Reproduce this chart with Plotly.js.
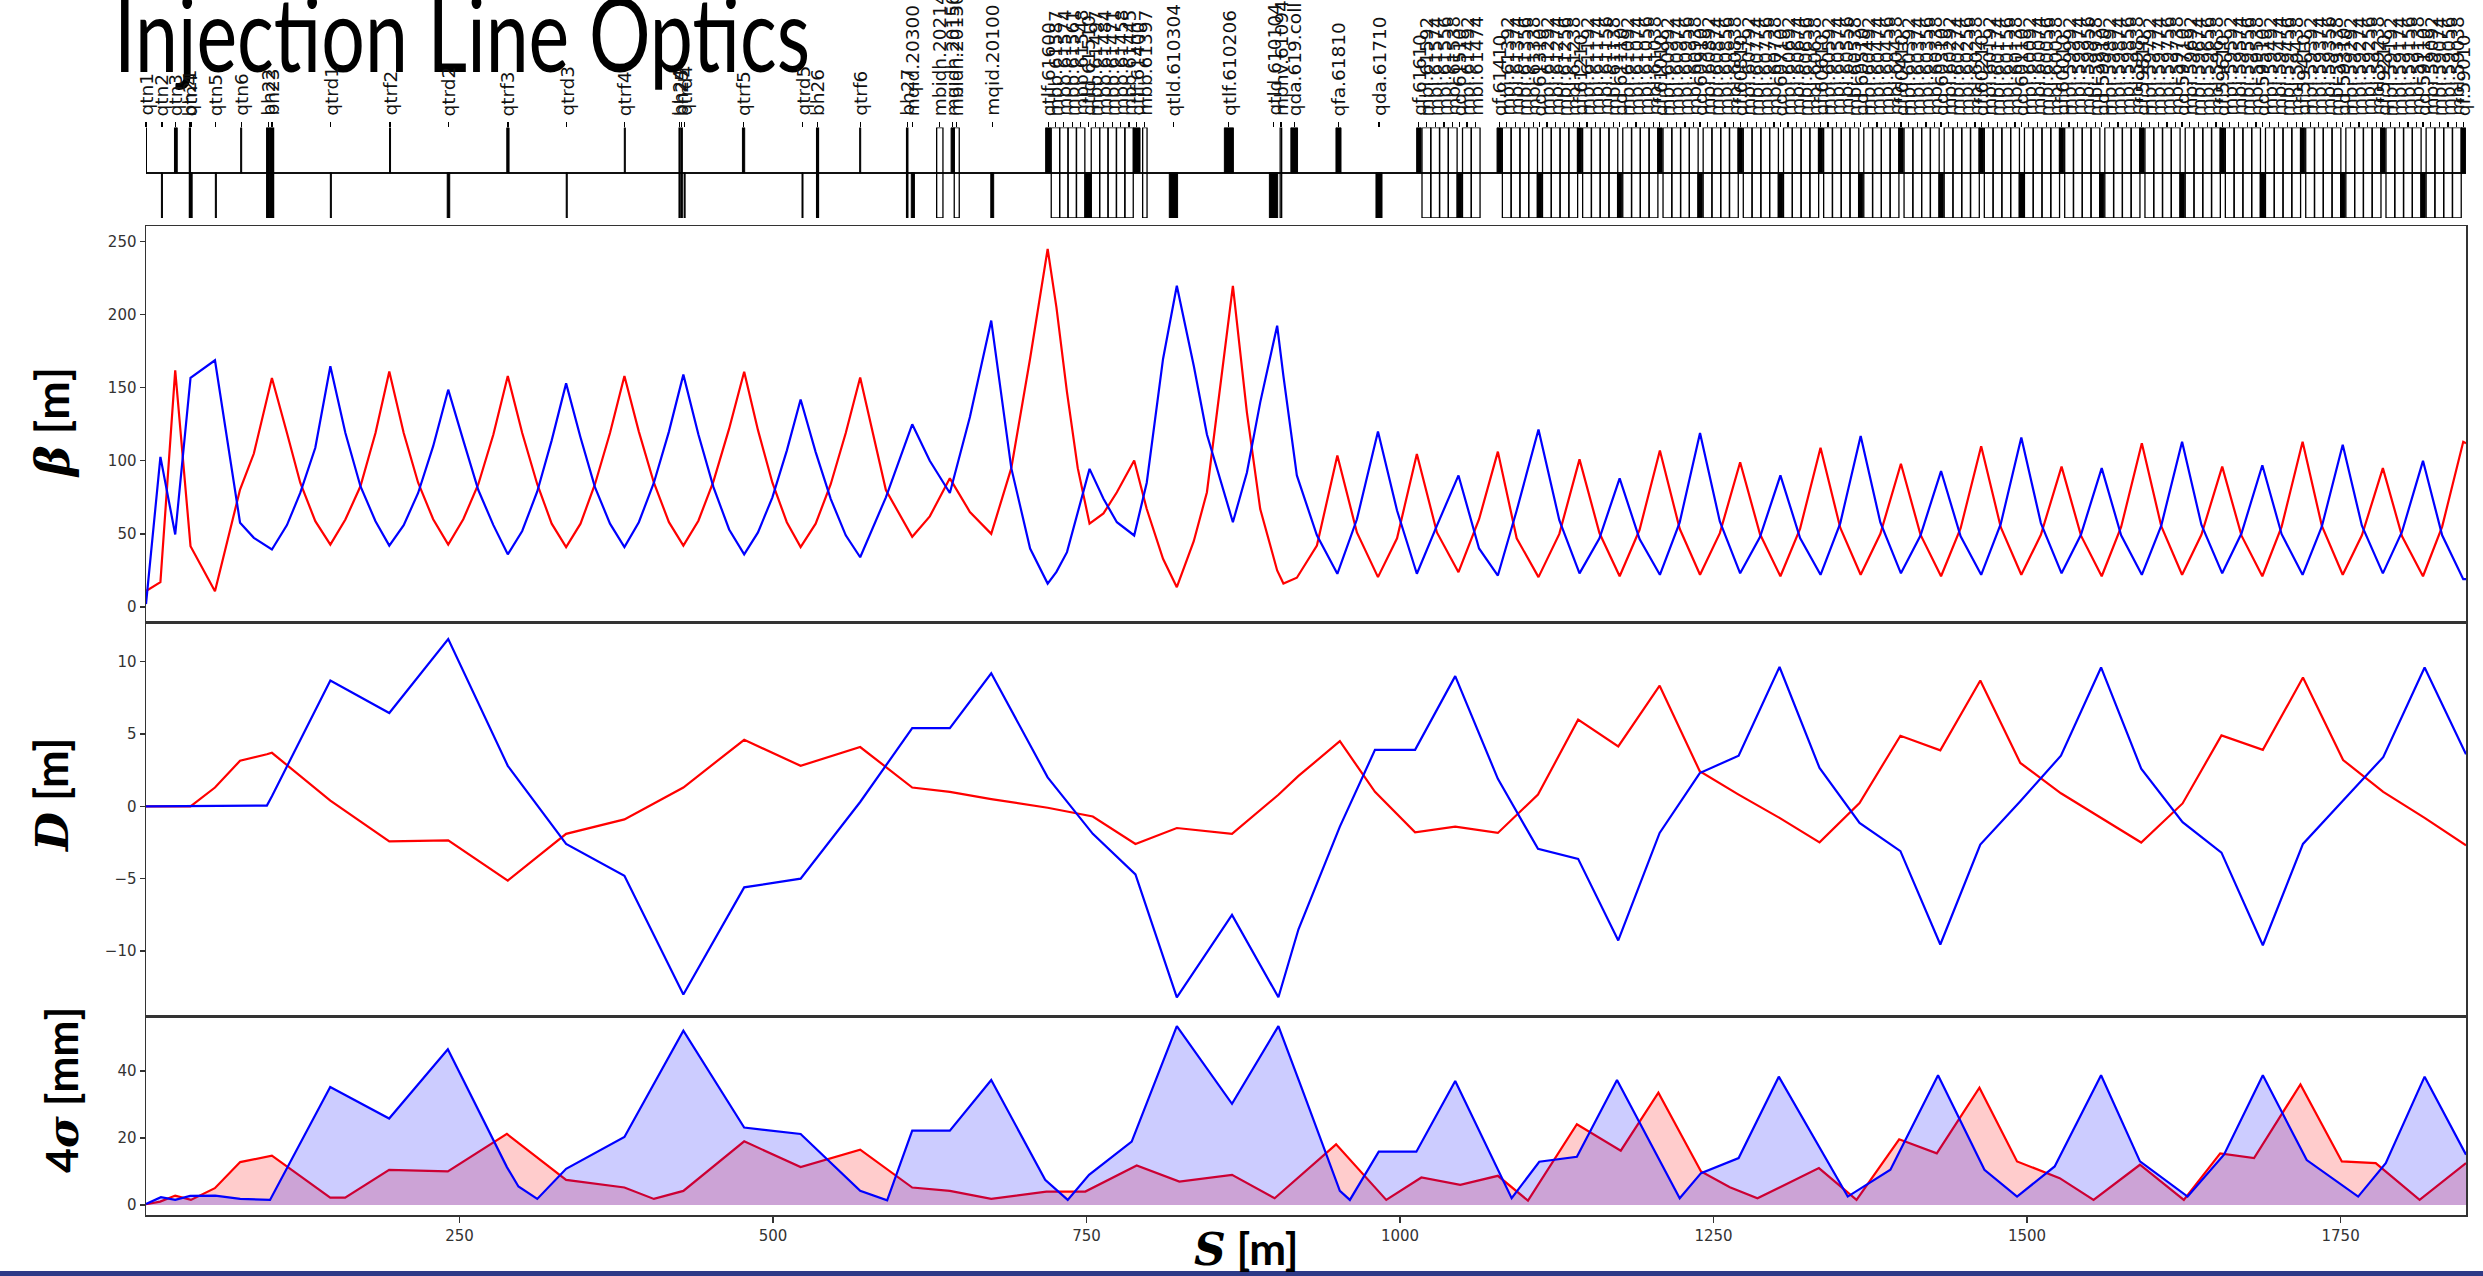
<!DOCTYPE html>
<html><head><meta charset="utf-8">
<script src="https://cdn.plot.ly/plotly-3.0.1.min.js"></script>
<style>html,body{margin:0;padding:0;background:#fff}#chart{width:2483px;height:1276px}</style>
</head><body><div id="chart"></div>
<script>
// ---------------- optics data (s in m) ----------------
const sB = [0, 11.5, 23.3, 35.5, 55, 75, 86, 100.4, 112.4, 123, 135, 147, 159, 171, 183, 194, 205.5, 217, 229, 241, 253, 265, 277, 288.5,
  300, 312, 323.5, 335, 346.5, 358, 370, 381.5, 393, 405, 417, 428.5, 440.5, 452.5, 465, 477, 488, 499.5, 511, 522, 534, 546, 558, 569.5,
  590, 611, 625, 641, 657, 674, 690, 705, 719, 726, 734.4, 743, 752.4, 763.5, 774.2, 788, 798, 811, 822, 835.5, 846, 866.7, 877.9, 888.5, 902, 907, 917.7, 933.7, 950, 965.6, 982.4, 997.6, 1013.4, 1029.4, 1046.6, 1063, 1078, 1093, 1110.4,
  1127, 1143.1, 1159, 1175.1, 1191, 1207.2, 1223, 1239.2, 1255, 1271.2, 1287, 1303.3, 1319, 1335.3, 1351, 1367.3, 1383, 1399.4, 1415, 1431.4,
  1447, 1463.4, 1479, 1495.4, 1511, 1527.5, 1543, 1559.5, 1575, 1591.5, 1607, 1623.6, 1639, 1655.6, 1671, 1687.6, 1703, 1719.7, 1735, 1751.7,
  1767, 1783.7, 1799, 1815.7, 1831, 1847.8, 1850];
const betaX = [10.8, 17, 162, 41.6, 10.8, 80.3, 105, 156.7, 119, 85, 58.7, 42.7, 59.8, 82.6, 119, 161.2, 119, 85, 60, 42.7, 60, 84, 118, 158,
  119, 84, 57, 41, 57, 84, 119, 158, 120, 85, 58, 42, 59, 86, 122, 161, 121, 85, 58, 41, 57, 84, 119, 157,
  80, 48, 62, 88, 65, 50, 95, 170, 245, 205, 147, 95, 57, 64, 78.5, 100.2, 67, 33, 13.5, 45, 78.5, 219.8, 133, 67, 25, 16, 20, 42, 103.6, 51, 20.4, 47, 104.7, 51, 23.8, 60, 106.3, 47, 20.4,
  50, 101, 50.6, 21, 52.8, 107, 53.5, 22, 50.5, 99, 49.9, 21, 53.6, 109, 54.2, 22, 50.1, 98, 49.5, 21,
  53.9, 110, 54.6, 22, 49.4, 96, 48.8, 21, 54.7, 112, 55.3, 22, 49.4, 96, 48.8, 21, 55, 113, 55.7, 22,
  49, 95, 48.4, 21, 55, 113, 112];
const betaY = [2, 102.7, 49.6, 156.7, 168.8, 57.6, 47.3, 39.3, 56, 78, 108.9, 164.7, 119, 82.6, 58.7, 42, 56, 78, 110, 148.7, 114, 80, 56, 36,
  52, 79, 114, 153, 116, 82, 57, 41, 58, 85, 120, 159, 118, 82, 53, 36, 51, 75, 107, 142, 106, 74, 49, 34,
  75, 125, 100, 78, 130, 196, 95, 40, 16, 24, 37.5, 65, 94.5, 74, 58, 48.9, 85, 169.7, 219.8, 165, 118, 58, 92, 140, 192.5, 158, 90, 49, 22.7, 60, 120, 66, 22.7, 55.7, 90, 40, 21.5, 66, 121.4,
  59.4, 23, 47, 88, 46.4, 22, 57.9, 119, 58.5, 23, 47.8, 90, 47.2, 22, 57.2, 117, 57.8, 23, 48.9, 93,
  48.3, 22, 56.8, 116, 57.4, 23, 49.6, 95, 49, 22, 55.7, 113, 56.3, 23, 50.4, 97, 49.8, 22, 54.9, 111,
  55.6, 23, 51.5, 100, 49, 19, 19];

const sD = [0, 35.5, 55, 75, 96.4, 100.4, 147, 194, 241, 288.5, 335, 381.5, 428.5, 477, 522, 569.5, 611, 641, 674, 719,
  755, 789, 822, 866, 903, 919, 952, 980, 1012, 1044, 1078, 1110, 1142, 1174, 1207, 1239, 1270, 1302.6, 1334.5, 1366.4,
  1399, 1430.8, 1462.7, 1494.6, 1527, 1559, 1591, 1624, 1655, 1688, 1720, 1752, 1784, 1817, 1850];
const dispX = [0, 0, 1.3, 3.15, 3.6, 3.7, 0.4, -2.42, -2.35, -5.13, -1.9, -0.9, 1.3, 4.6, 2.8, 4.1, 1.3, 1.0, 0.5, -0.1,
  -0.7, -2.6, -1.5, -1.9, 0.8, 2.1, 4.5, 1.0, -1.8, -1.4, -1.84, 0.81, 5.99, 4.14, 8.34, 2.42, 0.81, -0.8, -2.49, 0.23,
  4.88, 3.87, 8.7, 3.0, 0.9, -0.8, -2.5, 0.2, 4.9, 3.9, 8.9, 3.2, 1.0, -0.8, -2.7];
const dispY = [0, 0, 0, 0, 0.05, 0.7, 8.7, 6.45, 11.56, 2.8, -2.6, -4.8, -13, -5.6, -5.0, 0.3, 5.4, 5.4, 9.2, 2.0,
  -1.9, -4.7, -13.2, -7.5, -13.2, -8.5, -1.4, 3.9, 3.9, 9.0, 1.9, -2.94, -3.63, -9.27, -1.84, 2.3, 3.5, 9.63, 2.65, -1.15,
  -3.1, -9.55, -2.64, 0.35, 3.5, 9.6, 2.6, -1.1, -3.2, -9.6, -2.6, 0.4, 3.4, 9.6, 3.6];

const sSigX = [0, 11.3, 23.3, 35.8, 54.9, 75.1, 100.4, 146.9, 158.8, 193.9, 240.7, 287.8, 335, 381.5, 405, 428.5, 477, 522, 569.5, 611,
  641, 674, 718, 749, 790, 824, 866, 900, 949, 989, 1017, 1048, 1078, 1102, 1141, 1176, 1206, 1240, 1263, 1285,
  1334, 1364, 1398, 1428, 1462, 1492, 1526, 1553, 1590, 1625, 1654, 1681, 1718, 1751, 1778, 1813, 1850];
const sigX = [0.2, 1, 2.8, 1.5, 5, 12.8, 14.7, 2.2, 2.2, 10.5, 10, 21.2, 7.5, 5.2, 1.8, 4.2, 19, 11.3, 16.5, 5.2,
  4.2, 1.8, 4, 4, 11.8, 7, 9, 2, 18.1, 1.5, 8.2, 6, 8.7, 1.3, 24.1, 16.2, 33.5, 10, 5.3, 2,
  11, 1.5, 19.6, 15.4, 35, 13, 8, 1.5, 12, 1.5, 15.4, 14, 36, 13, 12.5, 1.5, 12.5];
const sSigY = [0, 11.9, 23.3, 35.2, 55.2, 75.1, 98.9, 146.9, 193.9, 240.7, 287.8, 297, 312, 335, 381.5, 428.5, 477, 522, 569.5, 591,
  611, 641, 674, 717, 735, 752, 786, 822, 866, 903, 921, 952, 960, 983, 1013, 1044, 1089, 1111, 1141, 1173,
  1223, 1240, 1270, 1302, 1357, 1391, 1429, 1466, 1492, 1522, 1559, 1590, 1628, 1657, 1688, 1723, 1764, 1786, 1817, 1850];
const sigY = [0.3, 2.3, 1.5, 2.7, 2.8, 1.8, 1.5, 35.2, 25.8, 46.5, 11.3, 5.5, 1.8, 10.8, 20.3, 52, 23.1, 21.2, 4.2, 1.4,
  22.2, 22.2, 37.3, 7.5, 1.5, 9, 18.9, 53.4, 30.2, 53.4, 35.5, 4.2, 1.5, 15.9, 15.9, 37, 2, 12.9, 14.4, 37.3,
  2, 9.5, 14, 38.3, 2.5, 10.5, 38.7, 10.5, 2.5, 11.5, 38.7, 13, 2.5, 15, 38.7, 13.4, 2.5, 12.5, 38.3, 15];

// ---------------- lattice elements ----------------
const qfS = [0, 23.8, 75.9, 194.6, 288.6, 381.8, 476.5, 569.5, 643.3, 719.4, 790, 863.5, 915.6, 950.9,
  1015, 1079.1, 1143.1, 1207.2, 1271.2, 1335.3, 1399.4, 1463.4, 1527.5, 1591.5, 1655.6, 1719.7, 1783.7, 1847.8];
const qfLen = [0.8, 2.2, 0.8, 0.8, 1.8, 0.8, 1.8, 0.8, 2.6, 4, 5.3, 7.2, 5.3, 4,
  3.5, 3.5, 3.5, 3.5, 3.5, 3.5, 3.5, 3.5, 3.5, 3.5, 3.5, 3.5, 3.5, 3.5];
const qfName = ["qtn1", "qtn3", "qtn6", "qtrf2", "qtrf3", "qtrf4", "qtrf5", "qtrf6", "mqidh.20150", "qtlf.61600", "qtlf.61400", "qtlf.610206", "qda.619.coll", "qfa.61810",
  "qf.61610", "qf.61410", "qf.61210", "qf.61010", "qf.60810", "qf.60610", "qf.60410", "qf.60210", "qf.60010", "qf.59810", "qf.59610", "qf.59410", "qf.59210", "qf.59010"];

const qdS = [12.7, 35.8, 55.7, 147.4, 241.2, 335.5, 429.5, 523.5, 611.5, 674.8, 751.3, 819.3, 899.1, 983.2,
  1047.3, 1111.1, 1175.1, 1239.2, 1303.3, 1367.3, 1431.4, 1495.4, 1559.5, 1623.6, 1687.6, 1751.7, 1815.7];
const qdLen = [0.8, 2, 0.8, 0.8, 2, 0.8, 0.8, 0.8, 2.5, 2.3, 5, 6.6, 6.6, 4.8,
  3.5, 3.5, 3.5, 3.5, 3.5, 3.5, 3.5, 3.5, 3.5, 3.5, 3.5, 3.5, 3.5];
const qdName = ["qtn2", "qtn4", "qtn5", "qtrd1", "qtrd2", "qtrd3", "qtrd4", "qtrd5", "mqid.20300", "mqid.20100", "qtld.61510", "qtld.610304", "qtld.610104", "qda.61710",
  "qd.61510", "qd.61310", "qd.61110", "qd.60910", "qd.60710", "qd.60510", "qd.60310", "qd.60110", "qd.59910", "qd.59710", "qd.59510", "qd.59310", "qd.59110"];

const bendS = [35, 97.5, 100.5, 425.5, 427.2, 535.5, 607, 633, 646.5,
  725.2, 731.9, 738.6, 745.3, 757.1, 763.8, 770.5, 777.2, 783.9, 796.5, 905];
const bendLen = [0.8, 2.5, 2.5, 0.8, 0.8, 1.5, 1, 5, 4, 6.7, 6.7, 6.7, 6.7, 6.7, 6.7, 6.7, 6.7, 6.7, 3.5, 1.2];
const bendName = ["bh21", "bh22", "bh23", "bh24", "bh25", "bh26", "bh27", "mbidh.20214", "mbidh.20150",
  "mbb.61587", "mbb.61574", "mbb.61561", "mbb.61548", "mbb.61497", "mbb.61484", "mbb.61471", "mbb.61458", "mbb.61445", "mbb.61397", "mbhv.61094"];
const solidBends = ["bh21", "bh22", "bh23", "bh24", "bh25", "bh26", "bh27"];

const mbiS = [1021, 1028, 1035, 1042, 1053.3, 1060.3,
  1085.1, 1092.1, 1099.1, 1106.1, 1117.1, 1124.1, 1131.1, 1138.1,
  1149.1, 1156.1, 1163.1, 1170.1, 1181.1, 1188.1, 1195.1, 1202.1,
  1213.2, 1220.2, 1227.2, 1234.2, 1245.2, 1252.2, 1259.2, 1266.2,
  1277.2, 1284.2, 1291.2, 1298.2, 1309.3, 1316.3, 1323.3, 1330.3,
  1341.3, 1348.3, 1355.3, 1362.3, 1373.3, 1380.3, 1387.3, 1394.3,
  1405.4, 1412.4, 1419.4, 1426.4, 1437.4, 1444.4, 1451.4, 1458.4,
  1469.4, 1476.4, 1483.4, 1490.4, 1501.4, 1508.4, 1515.4, 1522.4,
  1533.5, 1540.5, 1547.5, 1554.5, 1565.5, 1572.5, 1579.5, 1586.5,
  1597.5, 1604.5, 1611.5, 1618.5, 1629.6, 1636.6, 1643.6, 1650.6,
  1661.6, 1668.6, 1675.6, 1682.6, 1693.6, 1700.6, 1707.6, 1714.6,
  1725.7, 1732.7, 1739.7, 1746.7, 1757.7, 1764.7, 1771.7, 1778.7,
  1789.7, 1796.7, 1803.7, 1810.7, 1821.7, 1828.7, 1835.7, 1842.7];
const mbiName = ["mbi.61592", "mbi.61574", "mbi.61556", "mbi.61538", "mbi.61492", "mbi.61474",
  "mbi.61392", "mbi.61374", "mbi.61356", "mbi.61338", "mbi.61292", "mbi.61274", "mbi.61256", "mbi.61238",
  "mbi.61192", "mbi.61174", "mbi.61156", "mbi.61138", "mbi.61092", "mbi.61074", "mbi.61056", "mbi.61038",
  "mbi.60992", "mbi.60974", "mbi.60956", "mbi.60938", "mbi.60892", "mbi.60874", "mbi.60856", "mbi.60838",
  "mbi.60792", "mbi.60774", "mbi.60756", "mbi.60738", "mbi.60692", "mbi.60674", "mbi.60656", "mbi.60638",
  "mbi.60592", "mbi.60574", "mbi.60556", "mbi.60538", "mbi.60492", "mbi.60474", "mbi.60456", "mbi.60438",
  "mbi.60392", "mbi.60374", "mbi.60356", "mbi.60338", "mbi.60292", "mbi.60274", "mbi.60256", "mbi.60238",
  "mbi.60192", "mbi.60174", "mbi.60156", "mbi.60138", "mbi.60092", "mbi.60074", "mbi.60056", "mbi.60038",
  "mbi.59992", "mbi.59974", "mbi.59956", "mbi.59938", "mbi.59892", "mbi.59874", "mbi.59856", "mbi.59838",
  "mbi.59792", "mbi.59774", "mbi.59756", "mbi.59738", "mbi.59692", "mbi.59674", "mbi.59656", "mbi.59638",
  "mbi.59592", "mbi.59574", "mbi.59556", "mbi.59538", "mbi.59492", "mbi.59474", "mbi.59456", "mbi.59438",
  "mbi.59392", "mbi.59374", "mbi.59356", "mbi.59338", "mbi.59292", "mbi.59274", "mbi.59256", "mbi.59238",
  "mbi.59192", "mbi.59174", "mbi.59156", "mbi.59138", "mbi.59092", "mbi.59074", "mbi.59056", "mbi.59038"];

const xTicks = [250, 500, 750, 1000, 1250, 1500, 1750];
const betaTicks = [0, 50, 100, 150, 200, 250];
const dispTicks = [-10, -5, 0, 5, 10];
const sigTicks = [0, 20, 40];

// ---------------- styles ----------------
const RED = '#ff0000', BLUE = '#0000ff', AX = '#333333';
const tickFont = {family: 'DejaVu Sans', size: 15, color: '#333'};
const lw = 2.2;
const MBI_WIDTH = 7;
const H = 1215; // plot-area bottom in px (margin t = 0)
const py = (pix) => (H - pix) / H; // pixel row -> paper fraction
const px = (pix) => (pix - 146) / 2320;

const traces = [
  {x: sSigX, y: sigX, xaxis: 'x', yaxis: 'y', mode: 'lines', fill: 'tozeroy', fillcolor: 'rgba(255,0,0,0.2)', line: {color: RED, width: lw}},
  {x: sSigY, y: sigY, xaxis: 'x', yaxis: 'y', mode: 'lines', fill: 'tozeroy', fillcolor: 'rgba(0,0,255,0.2)', line: {color: BLUE, width: lw}},
  {x: sD, y: dispX, xaxis: 'x2', yaxis: 'y2', mode: 'lines', line: {color: RED, width: lw}},
  {x: sD, y: dispY, xaxis: 'x2', yaxis: 'y2', mode: 'lines', line: {color: BLUE, width: lw}},
  {x: sB, y: betaX, xaxis: 'x3', yaxis: 'y3', mode: 'lines', line: {color: RED, width: lw}},
  {x: sB, y: betaY, xaxis: 'x3', yaxis: 'y3', mode: 'lines', line: {color: BLUE, width: lw}},
  {type: 'bar', x: qfS, y: qfS.map(() => 1), base: 0, width: qfLen, xaxis: 'x4', yaxis: 'y4',
   marker: {color: '#000', line: {color: '#000', width: 1}}},
  {type: 'bar', x: qdS, y: qdS.map(() => 1), base: -1, width: qdLen, xaxis: 'x4', yaxis: 'y4',
   marker: {color: '#000', line: {color: '#000', width: 1}}},
  {type: 'bar', x: bendS, y: bendS.map(() => 2), base: -1, width: bendLen, xaxis: 'x4', yaxis: 'y4',
   marker: {color: bendName.map(n => solidBends.includes(n) ? '#000' : 'rgba(0,0,0,0)'), line: {color: '#000', width: 1.3}}},
  {type: 'bar', x: mbiS, y: mbiS.map(() => 2), base: -1, width: MBI_WIDTH, xaxis: 'x4', yaxis: 'y4',
   marker: {color: 'rgba(0,0,0,0)', line: {color: '#000', width: 1.3}}}
];

const frameAxis = {showline: true, mirror: true, linecolor: AX, linewidth: 1.5, showgrid: false, zeroline: false};
const yBase = Object.assign({}, frameAxis, {ticks: 'outside', ticklen: 5, tickwidth: 1.3, tickcolor: AX, tickfont: tickFont});

const elemS = qfS.concat(qdS, bendS, mbiS);
const elemName = qfName.concat(qdName, bendName, mbiName);

const annotations = [
  {text: 'Injection Line Optics', xref: 'paper', yref: 'paper', x: px(462), y: py(90),
   xanchor: 'center', yanchor: 'bottom', showarrow: false, font: {family: 'Lato', size: 77, color: '#000'}},
  {text: '<span style="font-family:DejaVu Serif"><b><i>β</i></b></span><b> [m]</b>', xref: 'paper', yref: 'paper',
   x: px(52), y: py(423), textangle: -90, xanchor: 'center', yanchor: 'middle', showarrow: false,
   font: {family: 'Lato', size: 46, color: '#000'}},
  {text: '<span style="font-family:DejaVu Serif"><b><i>D</i></b></span><b> [m]</b>', xref: 'paper', yref: 'paper',
   x: px(51), y: py(796), textangle: -90, xanchor: 'center', yanchor: 'middle', showarrow: false,
   font: {family: 'Lato', size: 45, color: '#000'}},
  {text: '<b>4</b><span style="font-family:DejaVu Serif"><b><i>σ</i></b></span><b> [mm]</b>', xref: 'paper', yref: 'paper',
   x: px(62), y: py(1090), textangle: -90, xanchor: 'center', yanchor: 'middle', showarrow: false,
   font: {family: 'Lato', size: 43, color: '#000'}},
  {text: '<span style="font-family:DejaVu Serif"><b><i>S</i></b></span><b> [m]</b>', xref: 'paper', yref: 'paper',
   x: px(1246), y: py(1248.5), xanchor: 'center', yanchor: 'middle', showarrow: false,
   font: {family: 'Lato', size: 44, color: '#000'}}
];
elemS.forEach((s, i) => annotations.push({
  text: elemName[i], x: s, xref: 'x4', y: py(117), yref: 'paper', textangle: -90,
  xanchor: 'center', yanchor: 'bottom', showarrow: false, borderpad: 0,
  font: {family: 'DejaVu Sans', size: 18.5, color: '#111'}
}));

const layout = {
  width: 2483, height: 1276,
  margin: {l: 146, r: 17, t: 0, b: 61},
  paper_bgcolor: '#fff', plot_bgcolor: 'rgba(0,0,0,0)',
  showlegend: false, barmode: 'overlay',
  xaxis: Object.assign({}, frameAxis, {anchor: 'y', range: [0, 1850], tickmode: 'array', tickvals: xTicks,
    ticks: 'outside', ticklen: 6, tickwidth: 1.3, tickcolor: AX, tickfont: tickFont}),
  xaxis2: Object.assign({}, frameAxis, {anchor: 'y2', matches: 'x', showticklabels: false, ticks: ''}),
  xaxis3: Object.assign({}, frameAxis, {anchor: 'y3', matches: 'x', showticklabels: false, ticks: ''}),
  xaxis4: {anchor: 'y4', matches: 'x', side: 'top', tickmode: 'array', tickvals: elemS, showticklabels: false,
    ticks: 'outside', ticklen: 5, tickwidth: 1.2, tickcolor: '#000', showline: false, showgrid: false, zeroline: false},
  yaxis: Object.assign({}, yBase, {domain: [0, py(1016.7)], anchor: 'x', range: [-3, 56.2], tickmode: 'array', tickvals: sigTicks}),
  yaxis2: Object.assign({}, yBase, {domain: [py(1016.7), py(622)], anchor: 'x2', range: [-14.54, 12.74], tickmode: 'array', tickvals: dispTicks}),
  yaxis3: Object.assign({}, yBase, {domain: [py(622), py(226)], anchor: 'x3', range: [-10.3, 260.7], tickmode: 'array', tickvals: betaTicks}),
  yaxis4: {domain: [py(218), py(127.5)], anchor: 'x4', range: [-1, 1], showticklabels: false, ticks: '',
    showgrid: false, showline: false, zeroline: true, zerolinecolor: '#111', zerolinewidth: 2.4},
  annotations: annotations,
  shapes: [
    {type: 'rect', xref: 'paper', yref: 'paper', x0: -0.07, x1: 1.01, y0: py(1276), y1: py(1271),
     fillcolor: '#2e3a87', line: {width: 0}, layer: 'above'}
  ]
};

Plotly.newPlot('chart', traces, layout, {displayModeBar: false, staticPlot: true}).then(gd => {
  try {
    // the slide title is vertically stretched in the reference: stretch it about its baseline
    const t = gd.querySelector('.annotation[data-index="0"] text.annotation-text');
    if (t) {
      const bb = t.getBBox();
      const base = bb.y + bb.height * 0.8225;
      t.setAttribute('transform', `translate(0,${base}) scale(1,1.33) translate(0,${-base})`);
    }
  } catch (e) {}
});
</script>
</body></html>
